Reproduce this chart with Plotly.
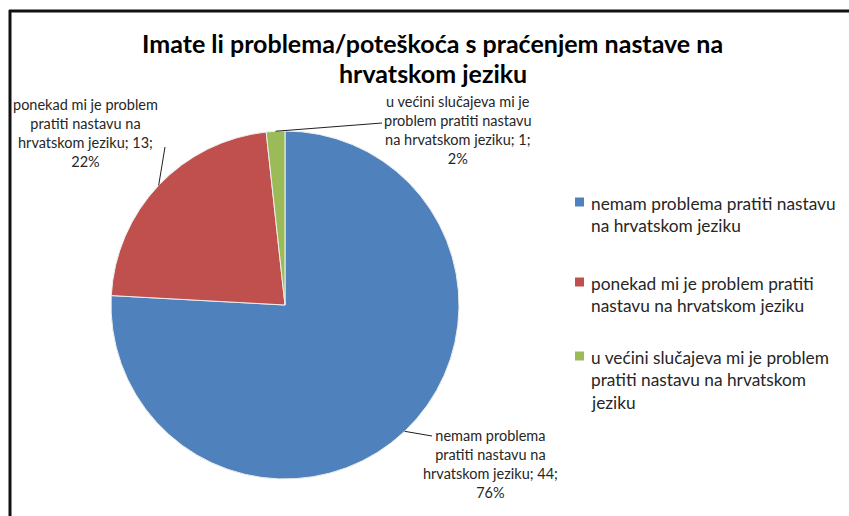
import math
import plotly.graph_objects as go

# ---------------- data ----------------
categories = [
    "nemam problema pratiti nastavu na hrvatskom jeziku",
    "ponekad mi je problem pratiti nastavu na hrvatskom jeziku",
    "u većini slučajeva mi je problem pratiti nastavu na hrvatskom jeziku",
]
values = [44, 13, 1]
colors = ["#4F81BD", "#C0504D", "#9BBB59"]
legend_wraps = [
    ["nemam problema pratiti nastavu", "na hrvatskom jeziku"],
    ["ponekad mi je problem pratiti", "nastavu na hrvatskom jeziku"],
    ["u većini slučajeva mi je problem", "pratiti nastavu na hrvatskom", "jeziku"],
]
label_wraps = [
    ["nemam problema", "pratiti nastavu na", "hrvatskom jeziku"],
    ["ponekad mi je problem", "pratiti nastavu na", "hrvatskom jeziku"],
    ["u većini slučajeva mi je", "problem pratiti nastavu", "na hrvatskom jeziku"],
]
title_lines = ["Imate li problema/poteškoća s praćenjem nastave na", "hrvatskom jeziku"]

# ---------------- layout constants ----------------
W, H = 849, 516
FONT = "Lato"
TXT = "#262626"
cx, cy, R = 285, 305, 174          # pie centre/radius in pixels (from top-left)
label_pos = [(490, 464), (85, 133), (458, 130)]   # label box centres (px)
leader_end = [(432, 436), (165, 147), (382, 123)]  # where the leader meets the label (px)
legend_top = [202, 282, 356]       # legend square centres (px)
legend_sq_x = (575, 584)
legend_text_x = 589
legend_line_h = 22.5
title_y = [43, 73]


def px(x):
    return x / W


def py(y):
    return 1 - y / H


fig = go.Figure(
    go.Pie(
        labels=categories,
        values=values,
        sort=False,
        direction="clockwise",
        rotation=0,
        marker=dict(colors=colors, line=dict(color="#eeeeee", width=1)),
        textinfo="none",
        hoverinfo="label+value+percent",
        showlegend=False,
        domain=dict(x=[px(cx - R), px(cx + R)], y=[py(cy + R), py(cy - R)]),
    )
)

total = sum(values)
annotations = []
shapes = []
cum = 0
for i, v in enumerate(values):
    mid = (cum + v / 2) / total * 2 * math.pi
    cum += v
    ex = cx + R * math.sin(mid)
    ey = cy - R * math.cos(mid)
    pct = round(v / total * 100)
    lines = label_wraps[i][:-1] + [f"{label_wraps[i][-1]}; {v};", f"{pct}%"]
    lx, ly = label_pos[i]
    annotations.append(
        dict(
            x=px(lx), y=py(ly), xref="paper", yref="paper",
            text="<br>".join(lines), showarrow=False, align="center",
            font=dict(family=FONT, size=14.5, color=TXT),
            xanchor="center", yanchor="middle",
        )
    )
    sx, sy = leader_end[i]
    shapes.append(
        dict(type="line", xref="paper", yref="paper",
             x0=px(ex), y0=py(ey), x1=px(sx), y1=py(sy),
             line=dict(color="#202020", width=1))
    )

# legend (square + wrapped text per category)
for i, wrap in enumerate(legend_wraps):
    yc = legend_top[i]
    shapes.append(dict(type="rect", xref="paper", yref="paper",
                       x0=px(legend_sq_x[0]), x1=px(legend_sq_x[1]),
                       y0=py(yc - 4.5), y1=py(yc + 4.5),
                       fillcolor=colors[i], line=dict(width=0)))
    for j, line in enumerate(wrap):
        annotations.append(dict(
            x=px(legend_text_x), y=py(yc + 1 + j * legend_line_h), xref="paper", yref="paper",
            text=line, showarrow=False, xanchor="left", yanchor="middle",
            font=dict(family=FONT, size=17.3, color=TXT)))

for j, t in enumerate(title_lines):
    annotations.append(
        dict(x=px(433), y=py(title_y[j]), xref="paper", yref="paper", text=t,
             showarrow=False, align="center", xanchor="center", yanchor="middle",
             font=dict(family=FONT, size=25, color="#000000", weight="bold"))
    )

# frame (top and left edges visible)
shapes.append(dict(type="line", xref="paper", yref="paper", x0=px(9), x1=1, y0=py(11), y1=py(11),
                   line=dict(color="#111111", width=3)))
shapes.append(dict(type="line", xref="paper", yref="paper", x0=px(10), x1=px(10), y0=py(10), y1=0,
                   line=dict(color="#111111", width=3)))

fig.update_layout(
    width=W, height=H,
    margin=dict(l=0, r=0, t=0, b=0),
    paper_bgcolor="white", plot_bgcolor="white",
    showlegend=False,
    annotations=annotations,
    shapes=shapes,
)

fig.write_html(
    "out.html",
    config={"displayModeBar": False},
    post_script="document.body.style.margin='0';document.body.style.overflow='hidden';",
)
